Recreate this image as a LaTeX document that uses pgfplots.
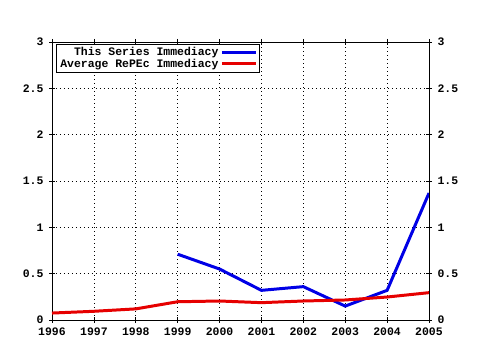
\documentclass[border=0pt]{standalone}
\usepackage{pgfplots}
\pgfplotsset{compat=1.18}
\usepackage{fontspec}
\setmainfont{Liberation Mono}
\definecolor{gblue}{RGB}{0,0,230}
\definecolor{gred}{RGB}{230,0,0}
\begin{document}
\begin{tikzpicture}
\useasboundingbox (-52bp,-30bp) rectangle (428bp,320bp);
\pgfplotsset{
  every axis/.append style={
    font=\fontsize{11.5}{12}\selectfont\bfseries,
    /pgf/number format/assume math mode=true,
  }
}
\begin{axis}[
  at={(0,0)}, anchor=south west,
  scale only axis, width=377bp, height=278bp,
  xmin=1996, xmax=2005, ymin=0, ymax=3,
  xtick={1996,...,2005},
  xticklabels={1996,1997,1998,1999,2000,2001,2002,2003,2004,2005},
  minor x tick num=1,
  ytick={0,0.5,1,1.5,2,2.5,3},
  yticklabels={0,0.5,1,1.5,2,2.5,3},
  grid=major,
  major grid style={black, dash pattern=on 1bp off 3bp, line width=0.7pt},
  tick align=center,
  major tick length=6bp, minor tick length=3bp,
  tick style={black, line width=0.6pt},
  axis line style={black, line width=0.8pt},
  xticklabel style={yshift=-1bp},
  yticklabel style={xshift=-2bp},
  legend style={at={(0.0106,0.993)}, anchor=north west, draw=black, line width=0.6pt,
     inner xsep=2bp, inner ysep=1bp, row sep=-2bp, legend cell align=right,
     font=\fontsize{11.5}{12}\selectfont\bfseries},
  legend plot pos=right,
  legend image code/.code={\draw[#1, line width=3pt] (0bp,0bp) -- (34bp,0bp);},
]
\addplot[gblue, line width=3pt] coordinates {
 (1999,0.71) (2000,0.55) (2001,0.32) (2002,0.36) (2003,0.15) (2004,0.32) (2005,1.37)};
\addlegendentry{This Series Immediacy}
\addplot[gred, line width=3pt] coordinates {
 (1996,0.075) (1997,0.094) (1998,0.12) (1999,0.197) (2000,0.205) (2001,0.187)
 (2002,0.205) (2003,0.216) (2004,0.248) (2005,0.295)};
\addlegendentry{Average RePEc Immediacy}
\end{axis}
\begin{axis}[
  at={(0,0)}, anchor=south west,
  scale only axis, width=377bp, height=278bp,
  xmin=1996, xmax=2005, ymin=0, ymax=3,
  hide x axis, axis y line*=right,
  ytick={0,0.5,1,1.5,2,2.5,3},
  yticklabels={0,0.5,1,1.5,2,2.5,3},
  tick align=center, major tick length=6bp,
  tick style={black, line width=0.6pt},
  axis line style={black, line width=0.8pt},
  yticklabel style={xshift=2bp},
]
\end{axis}
\end{tikzpicture}
\end{document}
